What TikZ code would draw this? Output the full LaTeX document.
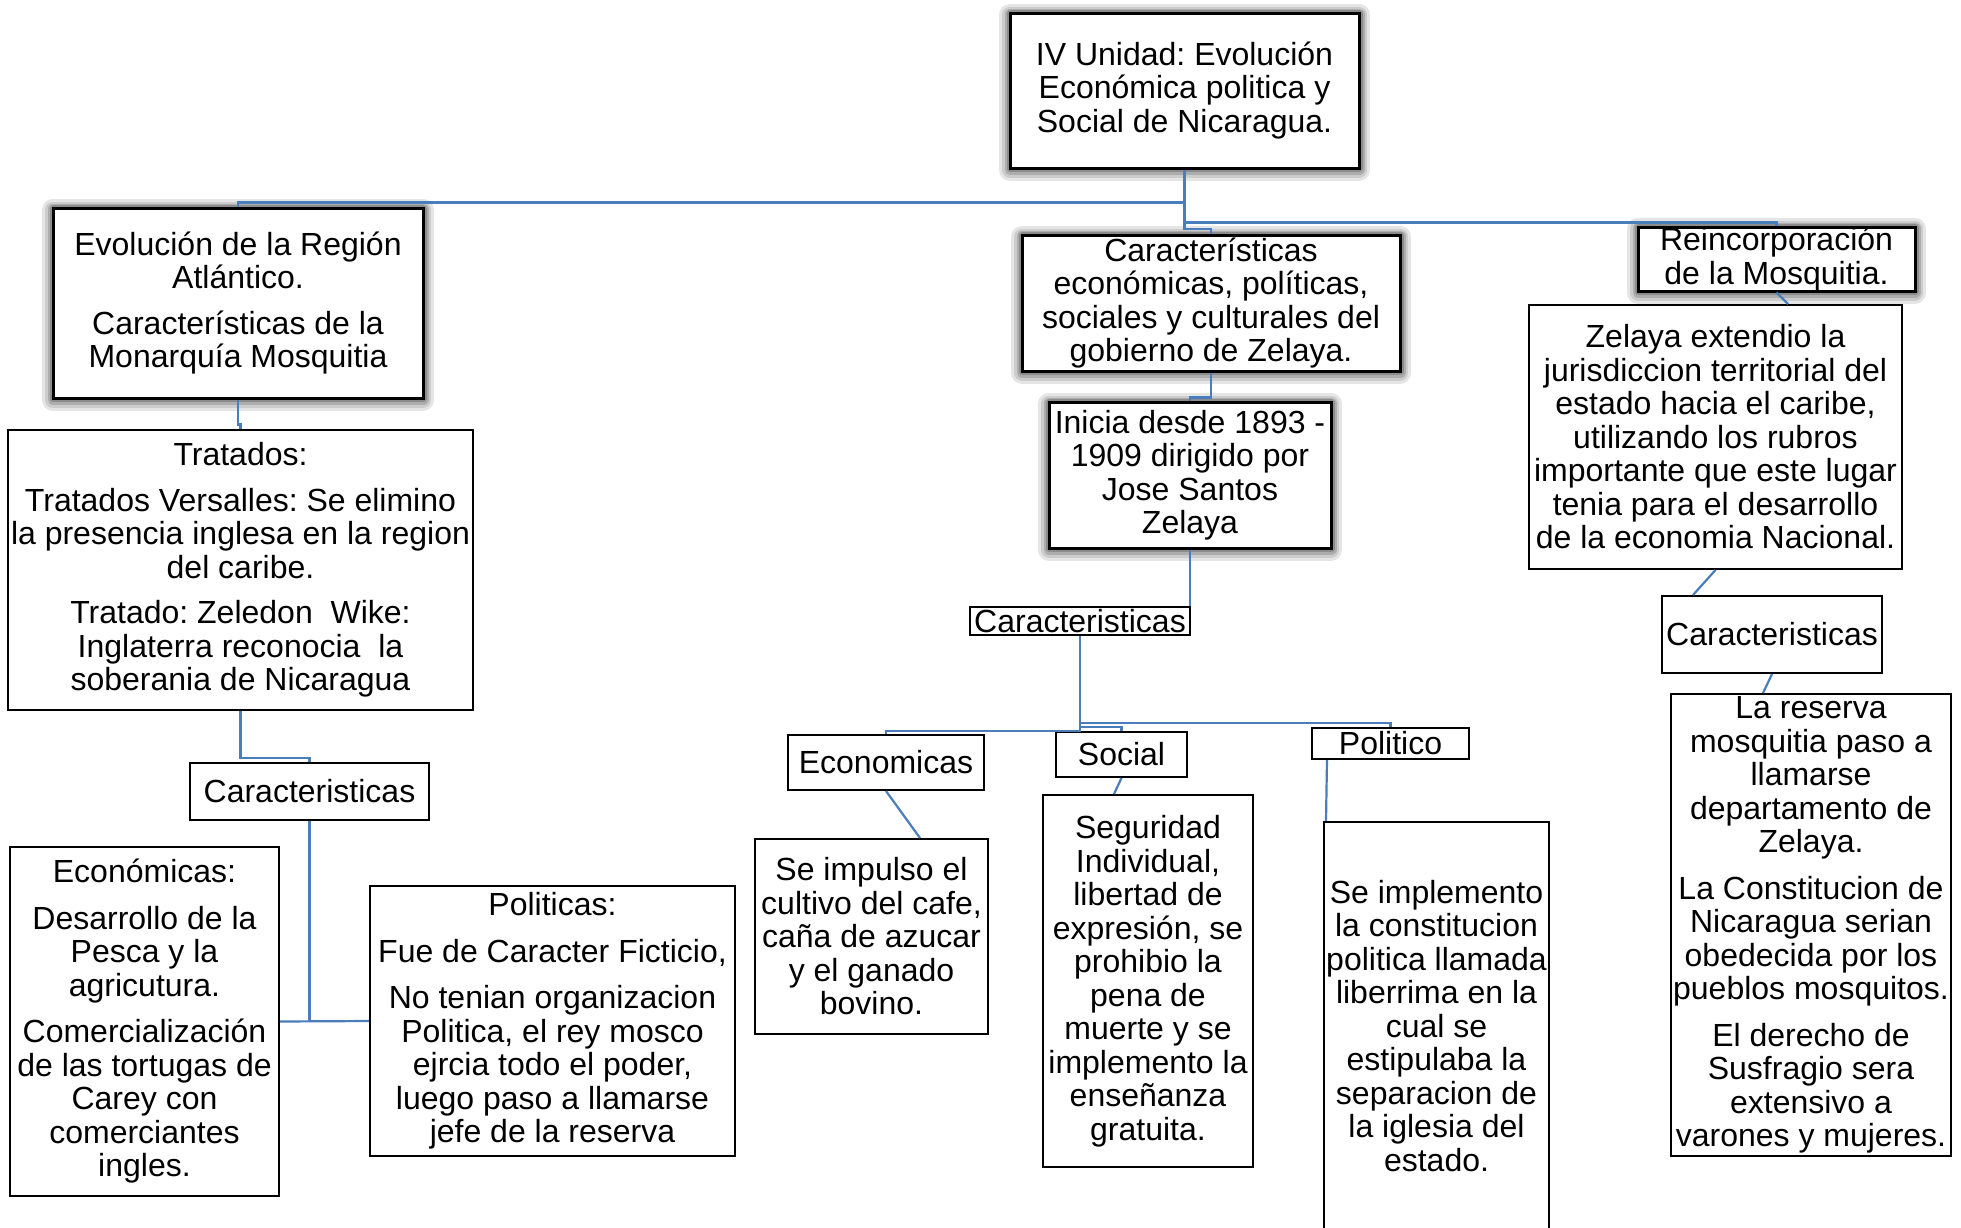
\documentclass[tikz,border=0pt]{standalone}
\usepackage{fontspec}
\setmainfont{Liberation Sans}
\usetikzlibrary{calc}
\definecolor{connblue}{HTML}{4A7EBB}
\frenchspacing
\begin{document}
\begin{tikzpicture}[x=0.5pt,y=-0.5pt,
  box/.style={draw=black, line width=1pt, fill=white, inner sep=0pt, align=center,
    font=\frenchspacing\fontsize{16}{16.75}\selectfont},
  bigbox/.style={box, line width=1.5pt,
    preaction={draw=black!10, fill=none, line width=11pt, line join=round, transform canvas={yshift=-0.8pt}},
    preaction={draw=black!20, fill=none, line width=8pt, line join=round, transform canvas={yshift=-0.8pt}},
    preaction={draw=black!32, fill=none, line width=5.5pt, line join=round, transform canvas={yshift=-0.6pt}},
    preaction={draw=black!45, fill=none, line width=3.5pt, line join=round, transform canvas={yshift=-0.4pt}}},
  sz/.style 2 args={minimum width=#1*0.5pt, minimum height=#2*0.5pt},
  link/.style={draw=connblue, line width=1.1pt}]
\useasboundingbox (0,0) rectangle (1961,1227);
\clip (0,0) rectangle (1961,1227);
\fill[white] (0,0) rectangle (1961,1227);

% top
\node[bigbox, sz={349}{155}] (top) at (1184.5,90.5) {IV Unidad: Evolución\\Económica politica y\\Social de Nicaragua.};

% left column
\node[bigbox, sz={370}{190}] (evol) at (238,303) {Evolución de la Región\\Atlántico.\\[6pt]Características de la\\Monarquía Mosquitia};
\node[box, sz={465}{280}] (trat) at (240.5,570) {Tratados:\\[6pt]Tratados Versalles: Se elimino\\la presencia inglesa en la region\\del caribe.\\[6pt]Tratado: Zeledon\ \ Wike:\\Inglaterra reconocia\ \ la\\soberania de Nicaragua};
\node[box, sz={239}{57}] (carL) at (309.5,791.5) {Caracteristicas};
\node[box, sz={269}{349}] (econL) at (144.5,1021.5) {Económicas:\\[6.5pt]Desarrollo de la\\Pesca y la\\agricutura.\\[6.5pt]Comercialización\\de las tortugas de\\Carey con\\comerciantes\\ingles.};
\node[box, sz={365}{270}] (polL) at (552.5,1021) {Politicas:\\[6.5pt]Fue de Caracter Ficticio,\\[6.5pt]No tenian organizacion\\Politica, el rey mosco\\ejrcia todo el poder,\\luego paso a llamarse\\jefe de la reserva};

% center column
\node[bigbox, sz={378}{136}] (carC) at (1211,303) {Características\\económicas, políticas,\\sociales y culturales del\\gobierno de Zelaya.};
\node[bigbox, sz={282}{146}] (inicia) at (1190,475) {Inicia desde 1893 -\\1909 dirigido por\\Jose Santos\\Zelaya};
\node[box, sz={220}{28}] (carM) at (1080,621) {Caracteristicas};
\node[box, sz={196}{55}] (econM) at (886,762.5) {Economicas};
\node[box, sz={131}{45}] (social) at (1121.5,754.5) {Social};
\node[box, sz={157}{31}] (polM) at (1390.5,743.5) {Politico};
\node[box, sz={233}{195}] (impulso) at (871.5,936.5) {Se impulso el\\cultivo del cafe,\\caña de azucar\\y el ganado\\bovino.};
\node[box, sz={210}{372}] (seguridad) at (1148,981) {Seguridad\\Individual,\\libertad de\\expresión, se\\prohibio la\\pena de\\muerte y se\\implemento la\\enseñanza\\gratuita.};
\node[box, sz={225}{408}] (implemento) at (1436.5,1026) {Se implemento\\la constitucion\\politica llamada\\liberrima en la\\cual se\\estipulaba la\\separacion de\\la iglesia del\\estado.};

% right column
\node[bigbox, sz={277}{64}] (reinc) at (1776.5,259) {Reincorporación\\de la Mosquitia.};
\node[box, sz={373}{264}] (zelaya) at (1715.5,437) {Zelaya extendio la\\jurisdiccion territorial del\\estado hacia el caribe,\\utilizando los rubros\\importante que este lugar\\tenia para el desarrollo\\de la economia Nacional.};
\node[box, sz={220}{77}] (carR) at (1772,634.5) {Caracteristicas};
\node[box, sz={280}{462}] (reserva) at (1811,925) {La reserva\\mosquitia paso a\\llamarse\\departamento de\\Zelaya.\\[6.5pt]La Constitucion de\\Nicaragua serian\\obedecida por los\\pueblos mosquitos.\\[6.5pt]El derecho de\\Susfragio sera\\extensivo a\\varones y mujeres.};

% connectors
\draw[link] (top.south) -- ++(0,33) -| (evol.north);
\draw[link] (top.south) -- ++(0,53) -| (reinc.north);
\draw[link] (top.south) -- ++(0,59.5) -| (carC.north);
\draw[link] (evol.south) -- ++(0,25) -| (trat.north);
\draw[link] (trat.south) -- ++(0,47) -| (carL.north);
\draw[link] (carL.south) -- (carL.south |- polL.west);
\draw[link] (econL.east) -- (polL.west);
\draw[link] (carC.south) -- ++(0,25) -| (inicia.north);
\draw[link] (inicia.south) -- (inicia.south |- carM.north);
\draw[link] (carM.south) -- ++(0,95) -| (econM.north);
\draw[link] (carM.south) -- ++(0,91) -| (social.north);
\draw[link] (carM.south) -- ++(0,87) -| (polM.north);
\draw[link] (econM.south) -- ($(impulso.north)+(48.5,0)$);
\draw[link] (social.south) -- ($(seguridad.north)+(-34,0)$);
\draw[link] ($(polM.south west)+(16,0)$) -- ($(implemento.north west)+(3,0)$);
\draw[link] (reinc.south) -- ($(zelaya.north)+(72.5,0)$);
\draw[link] (zelaya.south) -- ($(carR.north)+(-79,0)$);
\draw[link] (carR.south) -- ($(reserva.north)+(-48,0)$);
\end{tikzpicture}
\end{document}
